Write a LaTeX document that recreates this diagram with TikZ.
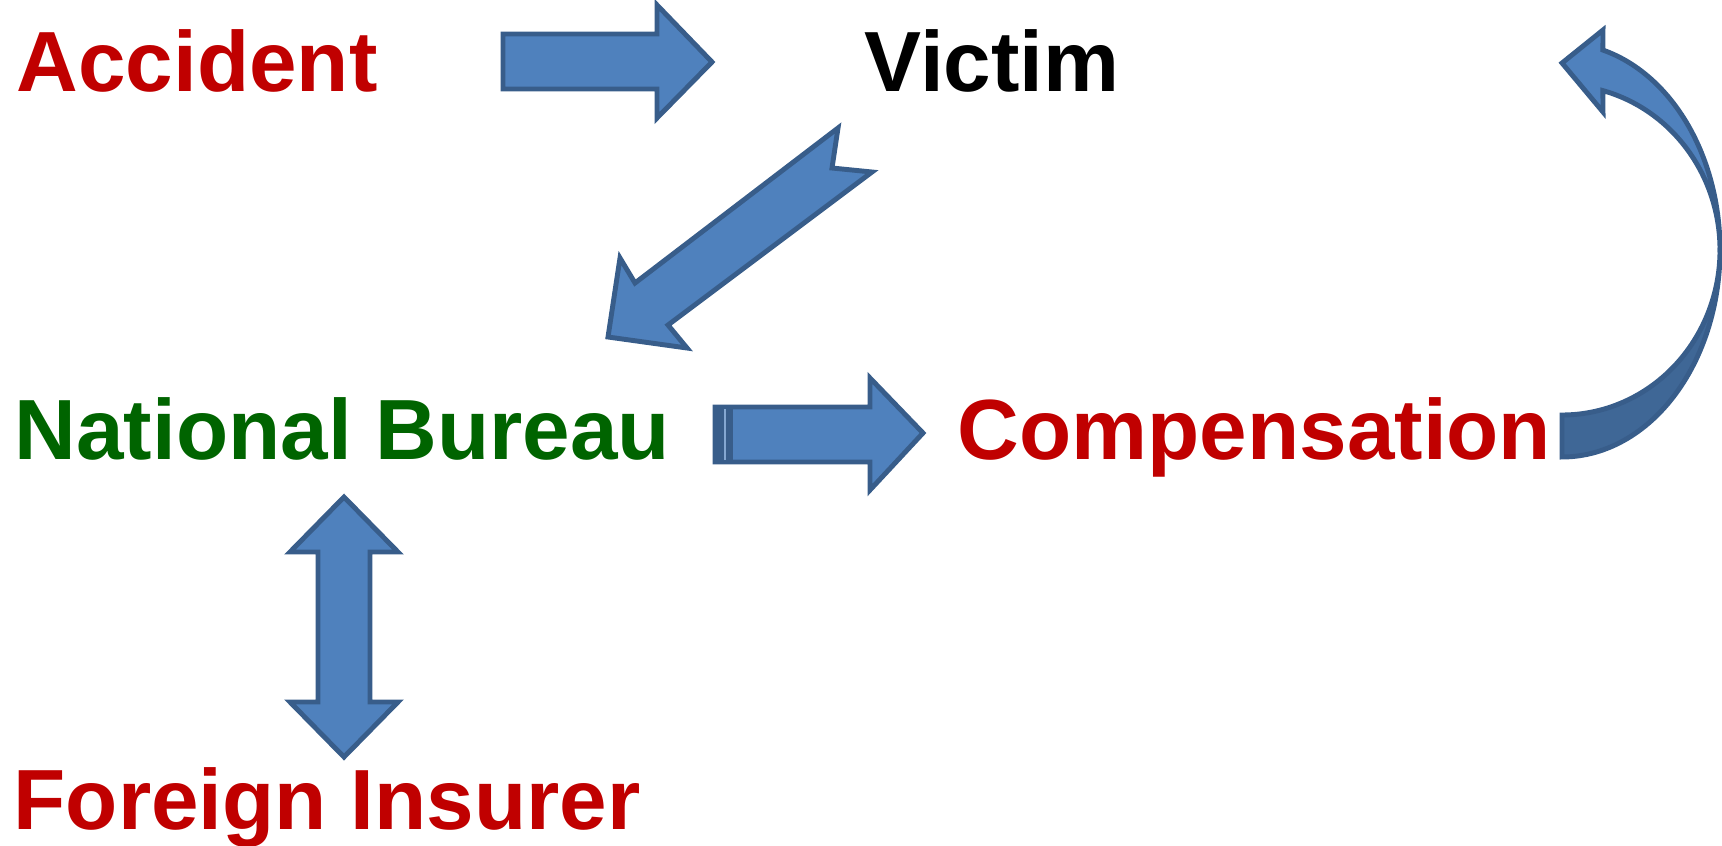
\documentclass[tikz,border=0pt]{standalone}
\usepackage{fontspec}
\setmainfont{Liberation Sans}
\definecolor{myred}{HTML}{C00000}
\definecolor{mygreen}{HTML}{006400}
\definecolor{afill}{HTML}{4F81BD}
\definecolor{aline}{HTML}{385D8A}
\definecolor{adark}{HTML}{3F6796}
\tikzset{
  lbl/.style={anchor=base west, inner sep=0pt, font=\fontsize{24.3}{28}\selectfont\bfseries},
  blk/.style={fill=afill, draw=aline, line width=1.4pt, line join=miter},
}
\begin{document}
\begin{tikzpicture}[x=0.01cm, y=-0.01cm]
\useasboundingbox (0,0) rectangle (1722,845);
% labels
\node[lbl, text=myred] (acc) at (16,91) {Accident};
\node[lbl, text=black] (vic) at (864,91) {Victim};
\node[lbl, text=mygreen] (nb) at (14,459) {National Bureau};
\node[lbl, text=myred] (comp) at (957,459) {Compensation};
\node[lbl, text=myred] (fi) at (13,829) {Foreign Insurer};
% Accident -> Victim
\draw[blk] (503,34) -- (657,34) -- (657,5) -- (712,62) -- (657,118) -- (657,89) -- (503,89) -- cycle;
% Victim -> National Bureau (notched)
\draw[blk] (838,128) -- (832,168) -- (872,172) -- (668,325) -- (687,348) -- (608,337) -- (620,258) -- (635,283) -- cycle;
% National Bureau -> Compensation
\draw[blk] (715,407) -- (870,407) -- (870,378) -- (923,433) -- (870,490) -- (870,462) -- (715,462) -- cycle;
\filldraw[fill=aline, draw=aline, line width=1.4pt] (715,407) rectangle (731,462);
\draw[afill!70!white, line width=0.3pt] (725,409) -- (725,460);
% National Bureau <-> Foreign Insurer
\draw[blk] (344,497) -- (398,552) -- (370,552) -- (370,702) -- (398,702) -- (344,757) -- (290,702) -- (318,702) -- (318,552) -- (290,552) -- cycle;
% Compensation -> Victim (curved)
\draw[fill=adark, draw=aline, line width=1.4pt, line join=miter]
  plot[domain=0:90, samples=60, variable=\t] ({1562+158*cos(\t)},{250+207*sin(\t)})
  -- plot[domain=90:0, samples=60, variable=\t] ({1562+158*cos(\t)},{250+165*sin(\t)}) -- cycle;
\draw[blk]
  plot[domain=-75:0, samples=60, variable=\t] ({1562+158*cos(\t)},{250+207*sin(\t)})
  -- plot[domain=0:-75, samples=60, variable=\t] ({1562+158*cos(\t)},{250+165*sin(\t)})
  -- (1603,112) -- (1562,63) -- (1603,30) -- cycle;
\end{tikzpicture}
\end{document}
